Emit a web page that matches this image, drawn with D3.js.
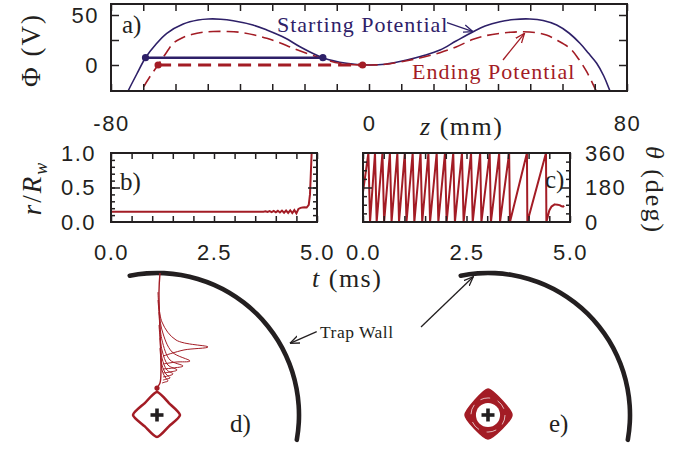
<!DOCTYPE html>
<html lang="en">
<head>
<meta charset="UTF-8">
<title>Trap potential and escape</title>
<script src="https://cdnjs.cloudflare.com/ajax/libs/d3/7.8.5/d3.min.js"></script>
<style>
  body { margin: 0; background: #fff; }
  svg { display: block; }
  .tl text { font-family: "Liberation Sans", Arial, sans-serif; font-size: 22px; letter-spacing: 1.5px; fill: #231f20; }
  .tk line { stroke: #231f20; stroke-width: 1.5; }
  .serif { font-family: "Liberation Serif", "Times New Roman", serif; fill: #231f20; }
</style>
</head>
<body>
<svg id="fig" width="697" height="451"></svg>
<script>
// a) on-axis potential, z in mm, phi in V
const zStart   = [-76, -74.7, -72, -69.3, -66, -62.7, -57.6, -53, -49.8, -46, -42.1, -36, -31.7, -26, -21.4, -14.3, -7, 0, 5, 11.7, 17, 22, 27, 32.3, 36, 40.6, 45, 49.9, 54, 58.2, 62, 65.4, 68, 70.6, 72.8, 74.7, 76];
const phiStart = [-35, -26, -9, 7.3, 21, 31.7, 41, 45, 46, 45.8, 44.3, 40, 35, 27, 18.3, 7.3, 1.7, 0, 0.8, 5, 9.5, 15, 24, 33.3, 39, 43.3, 45.5, 46, 44.5, 40, 32, 21.7, 12, 1.7, -11, -25.7, -35];
const zEnd     = [-72, -70.5, -68, -65.4, -62.7, -60.7, -58, -55, -51.5, -48.3, -44, -40, -35.5, -31.7, -27.5, -23.5, -16.2, -9, 0, 5, 11.7, 17, 22, 27, 32.3, 36.5, 40.6, 44, 47.8, 51.5, 55, 58.5, 62.3, 65, 67.5, 70.4, 72];
const phiEnd   = [-38, -25.7, -12, 0, 13, 21.7, 27, 30.5, 32.8, 33.5, 33.5, 32.7, 30, 26.7, 22, 16.7, 8.3, 1.7, 0, 0.7, 4.3, 8, 12.3, 18, 25.7, 29.5, 31.7, 32.8, 33.3, 32.5, 30, 24.5, 16.7, 6, -6.7, -25.7, -38];
const startLevelZ = [-69.3, -14.3], startLevelPhi = 7.3;
const endLevelZ = [-65.4, -2], endLevelPhi = 0;
const zTickLabels = [-80, 0, 80];
const phiTickLabels = [0, 50];

// b) radius vs time
const rT = [0, 3.7, 3.75, 3.8, 3.85, 3.9, 3.95, 4.0, 4.05, 4.1, 4.15, 4.2, 4.25, 4.3, 4.35, 4.4, 4.45, 4.5, 4.55, 4.6, 4.65, 4.7, 4.75, 4.8, 4.83, 4.85, 4.87];
const rV = [0.15, 0.15, 0.156, 0.145, 0.158, 0.143, 0.16, 0.14, 0.162, 0.138, 0.165, 0.135, 0.167, 0.133, 0.17, 0.13, 0.172, 0.125, 0.19, 0.205, 0.21, 0.215, 0.21, 0.25, 0.4, 0.7, 1.0];

// c) azimuth vs time: times where theta reaches 360 and where it restarts from 0
const thetaStart = 156;
const thetaPeaks   = [0.13, 0.29, 0.47, 0.65, 0.83, 1.01, 1.20, 1.39, 1.58, 1.78, 1.98, 2.18, 2.39, 2.61, 2.83, 3.06, 3.29, 3.53, 3.96, 4.42];
const thetaTroughs = [0.17, 0.33, 0.51, 0.69, 0.87, 1.05, 1.24, 1.43, 1.62, 1.82, 2.02, 2.22, 2.43, 2.65, 2.86, 3.09, 3.31, 3.55, 3.97, 4.43];
const tailT = [4.5, 4.55, 4.63, 4.7, 4.75, 4.8, 4.83, 4.86];
const tailV = [60, 80, 92, 90, 88, 82, 80, 85];
const tTickLabels = [0, 2.5, 5];

// d) escaping orbit in the x-y plane (units of wall radius)
const orbitD = [[0, 0.162], [0.084, 0.084], [0.162, 0], [0.084, -0.08], [0, -0.155], [-0.086, -0.08], [-0.169, 0], [-0.086, 0.084]];
const stemD = [[0, 0.162], [0, 0.19], [0.021, 0.225], [0.028, 0.317], [0.014, 0.866], [0.021, 1.0]];
const loopsD = [
  [[0.007, 0.866], [0.035, 0.655], [0.134, 0.528], [0.359, 0.479], [0.19, 0.458], [0.042, 0.415]],
  [[0.007, 0.81], [0.035, 0.599], [0.106, 0.444], [0.232, 0.38], [0.134, 0.373], [0.042, 0.359]],
  [[0.014, 0.725], [0.035, 0.528], [0.092, 0.387], [0.183, 0.345], [0.113, 0.331], [0.042, 0.324]],
  [[0.014, 0.634], [0.035, 0.458], [0.077, 0.352], [0.141, 0.317], [0.092, 0.303], [0.042, 0.296]],
  [[0.021, 0.542], [0.035, 0.401], [0.07, 0.317], [0.113, 0.289], [0.077, 0.275], [0.042, 0.268]],
  [[0.021, 0.472], [0.035, 0.352], [0.063, 0.289], [0.092, 0.261], [0.07, 0.254], [0.042, 0.246]],
  [[0.028, 0.401], [0.035, 0.317], [0.056, 0.268], [0.077, 0.239], [0.056, 0.232], [0.035, 0.225]]
];
// e) confined orbit
const orbitE = [[0, 0.183], [0.1, 0.1], [0.169, 0], [0.1, -0.095], [0, -0.169], [-0.095, -0.095], [-0.162, 0], [-0.095, 0.1]];
const holeE = 0.085, ringE = 0.12;
const wallDeg = [102, -11];   // wall arc ends, degrees counter-clockwise from +x

const svg = d3.select("#fig");
const navy = "#2e2068", red = "#a31c25", ink = "#231f20";

const xA = d3.scaleLinear().domain([-80, 80]).range([111, 627]);
const yA = d3.scaleLinear().domain([-26, 61]).range([91, 4]);
const xB = d3.scaleLinear().domain([0, 5]).range([111, 317]);
const yB = d3.scaleLinear().domain([0, 1]).range([222, 153]);
const xC = d3.scaleLinear().domain([0, 5]).range([363, 570]);
const yC = d3.scaleLinear().domain([0, 360]).range([222, 153]);
const xD = d3.scaleLinear().domain([-1, 1]).range([15, 299]);
const yD = d3.scaleLinear().domain([-1, 1]).range([557, 273]);
const xE = d3.scaleLinear().domain([-1, 1]).range([346, 630]);
const yE = yD;

// markers
const defs = svg.append("defs");
[["arN", navy], ["arR", red], ["arK", ink]].forEach(([id, c]) => {
  defs.append("marker").attr("id", id).attr("viewBox", "0 0 10 10")
    .attr("refX", 9.5).attr("refY", 5).attr("markerWidth", 10).attr("markerHeight", 10)
    .attr("markerUnits", "userSpaceOnUse").attr("orient", "auto")
    .append("path").attr("d", "M0,1.2 L9.5,5 L0,8.8").attr("fill", "none")
    .attr("stroke", c).attr("stroke-width", 1.3);
});
function clip(id, x, y) {
  defs.append("clipPath").attr("id", id).append("rect")
    .attr("x", x.range()[0]).attr("y", y.range()[1])
    .attr("width", x.range()[1] - x.range()[0]).attr("height", y.range()[0] - y.range()[1]);
}
clip("cA", xA, yA); clip("cB", xB, yB); clip("cC", xC, yC);

function ticks(axis, x, y) {
  svg.append("g").attr("class", "tk").attr("transform", `translate(${x},${y})`)
    .call(axis.tickFormat(""))
    .call(g => g.select(".domain").remove());
}
function labels(axis, x, y) {
  svg.append("g").attr("class", "tl").attr("transform", `translate(${x},${y})`)
    .call(axis.tickSize(0))
    .call(g => g.attr("font-size", null).attr("font-family", null))
    .call(g => g.select(".domain").remove());
}
function frame(x, y) {
  svg.append("rect").attr("x", x.range()[0]).attr("y", y.range()[1])
    .attr("width", x.range()[1] - x.range()[0]).attr("height", y.range()[0] - y.range()[1])
    .attr("fill", "none").attr("stroke", ink).attr("stroke-width", 2);
}

// ---- panel a
const gA = svg.append("g").attr("clip-path", "url(#cA)");
const lineA = d3.line().curve(d3.curveCatmullRom.alpha(0.5));
gA.append("path").attr("d", lineA(zStart.map((z, i) => [xA(z), yA(phiStart[i])])))
  .attr("fill", "none").attr("stroke", navy).attr("stroke-width", 1.6);
gA.append("path").attr("d", lineA(zEnd.map((z, i) => [xA(z), yA(phiEnd[i])])))
  .attr("fill", "none").attr("stroke", red).attr("stroke-width", 1.6).attr("stroke-dasharray", "12,6");
gA.append("line").attr("x1", xA(startLevelZ[0])).attr("x2", xA(startLevelZ[1]))
  .attr("y1", yA(startLevelPhi)).attr("y2", yA(startLevelPhi))
  .attr("stroke", navy).attr("stroke-width", 2.6);
gA.append("line").attr("x1", xA(endLevelZ[0])).attr("x2", xA(endLevelZ[1]))
  .attr("y1", yA(endLevelPhi)).attr("y2", yA(endLevelPhi))
  .attr("stroke", red).attr("stroke-width", 3).attr("stroke-dasharray", "13,7");
startLevelZ.forEach(z => gA.append("circle").attr("cx", xA(z)).attr("cy", yA(startLevelPhi)).attr("r", 3.6).attr("fill", navy));
endLevelZ.forEach(z => gA.append("circle").attr("cx", xA(z)).attr("cy", yA(endLevelPhi)).attr("r", 3.6).attr("fill", red));

ticks(d3.axisBottom(xA).tickValues(d3.range(-80, 90, 10)).tickSize(-7), 0, 91);
ticks(d3.axisTop(xA).tickValues(d3.range(-80, 90, 10)).tickSize(-7), 0, 4);
ticks(d3.axisLeft(yA).tickValues([0, 25, 50]).tickSize(-8), 111, 0);
ticks(d3.axisRight(yA).tickValues([0, 25, 50]).tickSize(-8), 627, 0);
labels(d3.axisBottom(xA).tickValues(zTickLabels).tickFormat(d => String(d)).tickPadding(24), 0, 91);
labels(d3.axisLeft(yA).tickValues(phiTickLabels).tickFormat(d => String(d)).tickPadding(12), 111, 0);
frame(xA, yA);

// ---- panel b
svg.append("g").attr("clip-path", "url(#cB)").append("path")
  .attr("d", d3.line()(rT.map((t, i) => [xB(t), yB(rV[i])])))
  .attr("fill", "none").attr("stroke", red).attr("stroke-width", 2);
ticks(d3.axisBottom(xB).tickValues(d3.range(0, 5.01, 0.5)).tickSize(-6), 0, 222);
ticks(d3.axisTop(xB).tickValues(d3.range(0, 5.01, 0.5)).tickSize(-6), 0, 153);
ticks(d3.axisLeft(yB).tickValues(d3.range(0.1, 1, 0.1)).tickSize(-4), 111, 0);
ticks(d3.axisRight(yB).tickValues(d3.range(0.1, 1, 0.1)).tickSize(-4), 317, 0);
ticks(d3.axisLeft(yB).tickValues([0.5]).tickSize(-9), 111, 0);
ticks(d3.axisRight(yB).tickValues([0.5]).tickSize(-9), 317, 0);
labels(d3.axisBottom(xB).tickValues(tTickLabels).tickFormat(d3.format(".1f")).tickPadding(22), 0, 222);
labels(d3.axisLeft(yB).tickValues([0, 0.5, 1]).tickFormat(d3.format(".1f")).tickPadding(15), 111, 0);
frame(xB, yB);

// ---- panel c
const thetaPts = [[0, thetaStart]];
thetaPeaks.forEach((p, i) => { thetaPts.push([p, 360]); thetaPts.push([thetaTroughs[i], 0]); });
tailT.forEach((t, i) => thetaPts.push([t, tailV[i]]));
svg.append("g").attr("clip-path", "url(#cC)").append("path")
  .attr("d", d3.line()(thetaPts.map(d => [xC(d[0]), yC(d[1])])))
  .attr("fill", "none").attr("stroke", red).attr("stroke-width", 2).attr("stroke-linejoin", "round");
ticks(d3.axisBottom(xC).tickValues(d3.range(0, 5.01, 0.5)).tickSize(-6), 0, 222);
ticks(d3.axisTop(xC).tickValues(d3.range(0, 5.01, 0.5)).tickSize(-6), 0, 153);
ticks(d3.axisLeft(yC).tickValues([45, 90, 135, 225, 270, 315]).tickSize(-4), 363, 0);
ticks(d3.axisRight(yC).tickValues([45, 90, 135, 225, 270, 315]).tickSize(-4), 570, 0);
ticks(d3.axisLeft(yC).tickValues([180]).tickSize(-9), 363, 0);
ticks(d3.axisRight(yC).tickValues([180]).tickSize(-9), 570, 0);
labels(d3.axisBottom(xC).tickValues(tTickLabels).tickFormat(d3.format(".1f")).tickPadding(22), 0, 222);
labels(d3.axisRight(yC).tickValues([0, 180, 360]).tickFormat(d => String(d)).tickPadding(15), 570, 0);
frame(xC, yC);

// ---- panels d and e
function wall(x, y) {
  const R = x(1) - x(0);
  svg.append("path")
    .attr("transform", `translate(${x(0)},${y(0)})`)
    .attr("d", d3.arc().innerRadius(R - 2.3).outerRadius(R + 2.3).cornerRadius(2.3)
      .startAngle((90 - wallDeg[0]) * Math.PI / 180).endAngle((90 - wallDeg[1]) * Math.PI / 180)())
    .attr("fill", ink);
}
function plus(x, y) {
  const g = svg.append("g").attr("stroke", ink).attr("stroke-width", 3.6);
  g.append("line").attr("x1", x(0) - 6.5).attr("x2", x(0) + 6.5).attr("y1", y(0)).attr("y2", y(0));
  g.append("line").attr("x1", x(0)).attr("x2", x(0)).attr("y1", y(0) - 6.5).attr("y2", y(0) + 6.5);
}
wall(xD, yD); wall(xE, yE);

const smooth = d3.line().curve(d3.curveCatmullRom.alpha(0.5));
const closedD = d3.line().curve(d3.curveCardinalClosed.tension(0.3));
svg.append("path").attr("d", closedD(orbitD.map(p => [xD(p[0]), yD(p[1])])))
  .attr("fill", "none").attr("stroke", red).attr("stroke-width", 2.6);
svg.append("path").attr("d", smooth(stemD.map(p => [xD(p[0]), yD(p[1])])))
  .attr("fill", "none").attr("stroke", red).attr("stroke-width", 1.4);
loopsD.forEach(l => svg.append("path").attr("d", smooth(l.map(p => [xD(p[0]), yD(p[1])])))
  .attr("fill", "none").attr("stroke", red).attr("stroke-width", 1));
svg.append("circle").attr("cx", xD(stemD[1][0])).attr("cy", yD(stemD[1][1])).attr("r", 2.6).attr("fill", red);
plus(xD, yD);

svg.append("path").attr("d", closedD(orbitE.map(p => [xE(p[0]), yE(p[1])])))
  .attr("fill", red).attr("stroke", red).attr("stroke-width", 1.5);
svg.append("circle").attr("cx", xE(0)).attr("cy", yE(0)).attr("r", xE(ringE) - xE(0))
  .attr("fill", "none").attr("stroke", "#fff").attr("stroke-width", 0.7).attr("stroke-dasharray", "10,8");
svg.append("circle").attr("cx", xE(0)).attr("cy", yE(0)).attr("r", xE(holeE) - xE(0)).attr("fill", "#fff");
plus(xE, yE);

// ---- text
function txt(s, x, y, size, opts = {}) {
  const t = svg.append("text").attr("class", "serif").attr("x", x).attr("y", y)
    .attr("font-size", size).attr("letter-spacing", opts.ls || 0);
  if (opts.fill) t.style("fill", opts.fill);
  if (opts.anchor) t.attr("text-anchor", opts.anchor);
  if (opts.rot) t.attr("transform", `rotate(${opts.rot},${x},${y})`);
  t.html(s);
  return t;
}
txt("Φ (V)", 40, 50, 27, { anchor: "middle", rot: -90, ls: 2 });
txt('<tspan font-style="italic">z</tspan> (mm)', 420, 135, 26, { ls: 1.5 });
txt('<tspan font-style="italic">r</tspan>/<tspan font-style="italic">R</tspan><tspan font-style="italic" font-size="18" dy="6">w</tspan>', 41, 188, 27, { anchor: "middle", rot: -90, ls: 2 });
txt('<tspan font-style="italic">t</tspan> (ms)', 312, 287, 26, { ls: 1.5 });
txt('<tspan font-style="italic">θ</tspan> (deg)', 646, 190, 26, { anchor: "middle", rot: 90, ls: 2 });

txt("a)", 122, 33, 25);
txt("b)", 120, 190, 25);
txt("c)", 545, 188, 25);
txt("d)", 230, 432, 25);
txt("e)", 549, 432, 25);

txt("Starting Potential", 277, 32, 22, { ls: 1, fill: navy });
txt("Ending Potential", 412, 79, 22, { ls: 1, fill: red });
txt("Trap Wall", 320, 338, 17.5, { ls: 0.5 });

function arrow(x1, y1, x2, y2, c, m) {
  svg.append("line").attr("x1", x1).attr("y1", y1).attr("x2", x2).attr("y2", y2)
    .attr("stroke", c).attr("stroke-width", 1.3).attr("marker-end", `url(#${m})`);
}
arrow(447, 22.7, 473, 31.7, navy, "arN");
arrow(503, 60, 524.5, 33.3, red, "arR");
arrow(316.7, 331.7, 290, 343.3, ink, "arK");
arrow(421, 327, 473.3, 276.7, ink, "arK");
</script>
</body>
</html>
